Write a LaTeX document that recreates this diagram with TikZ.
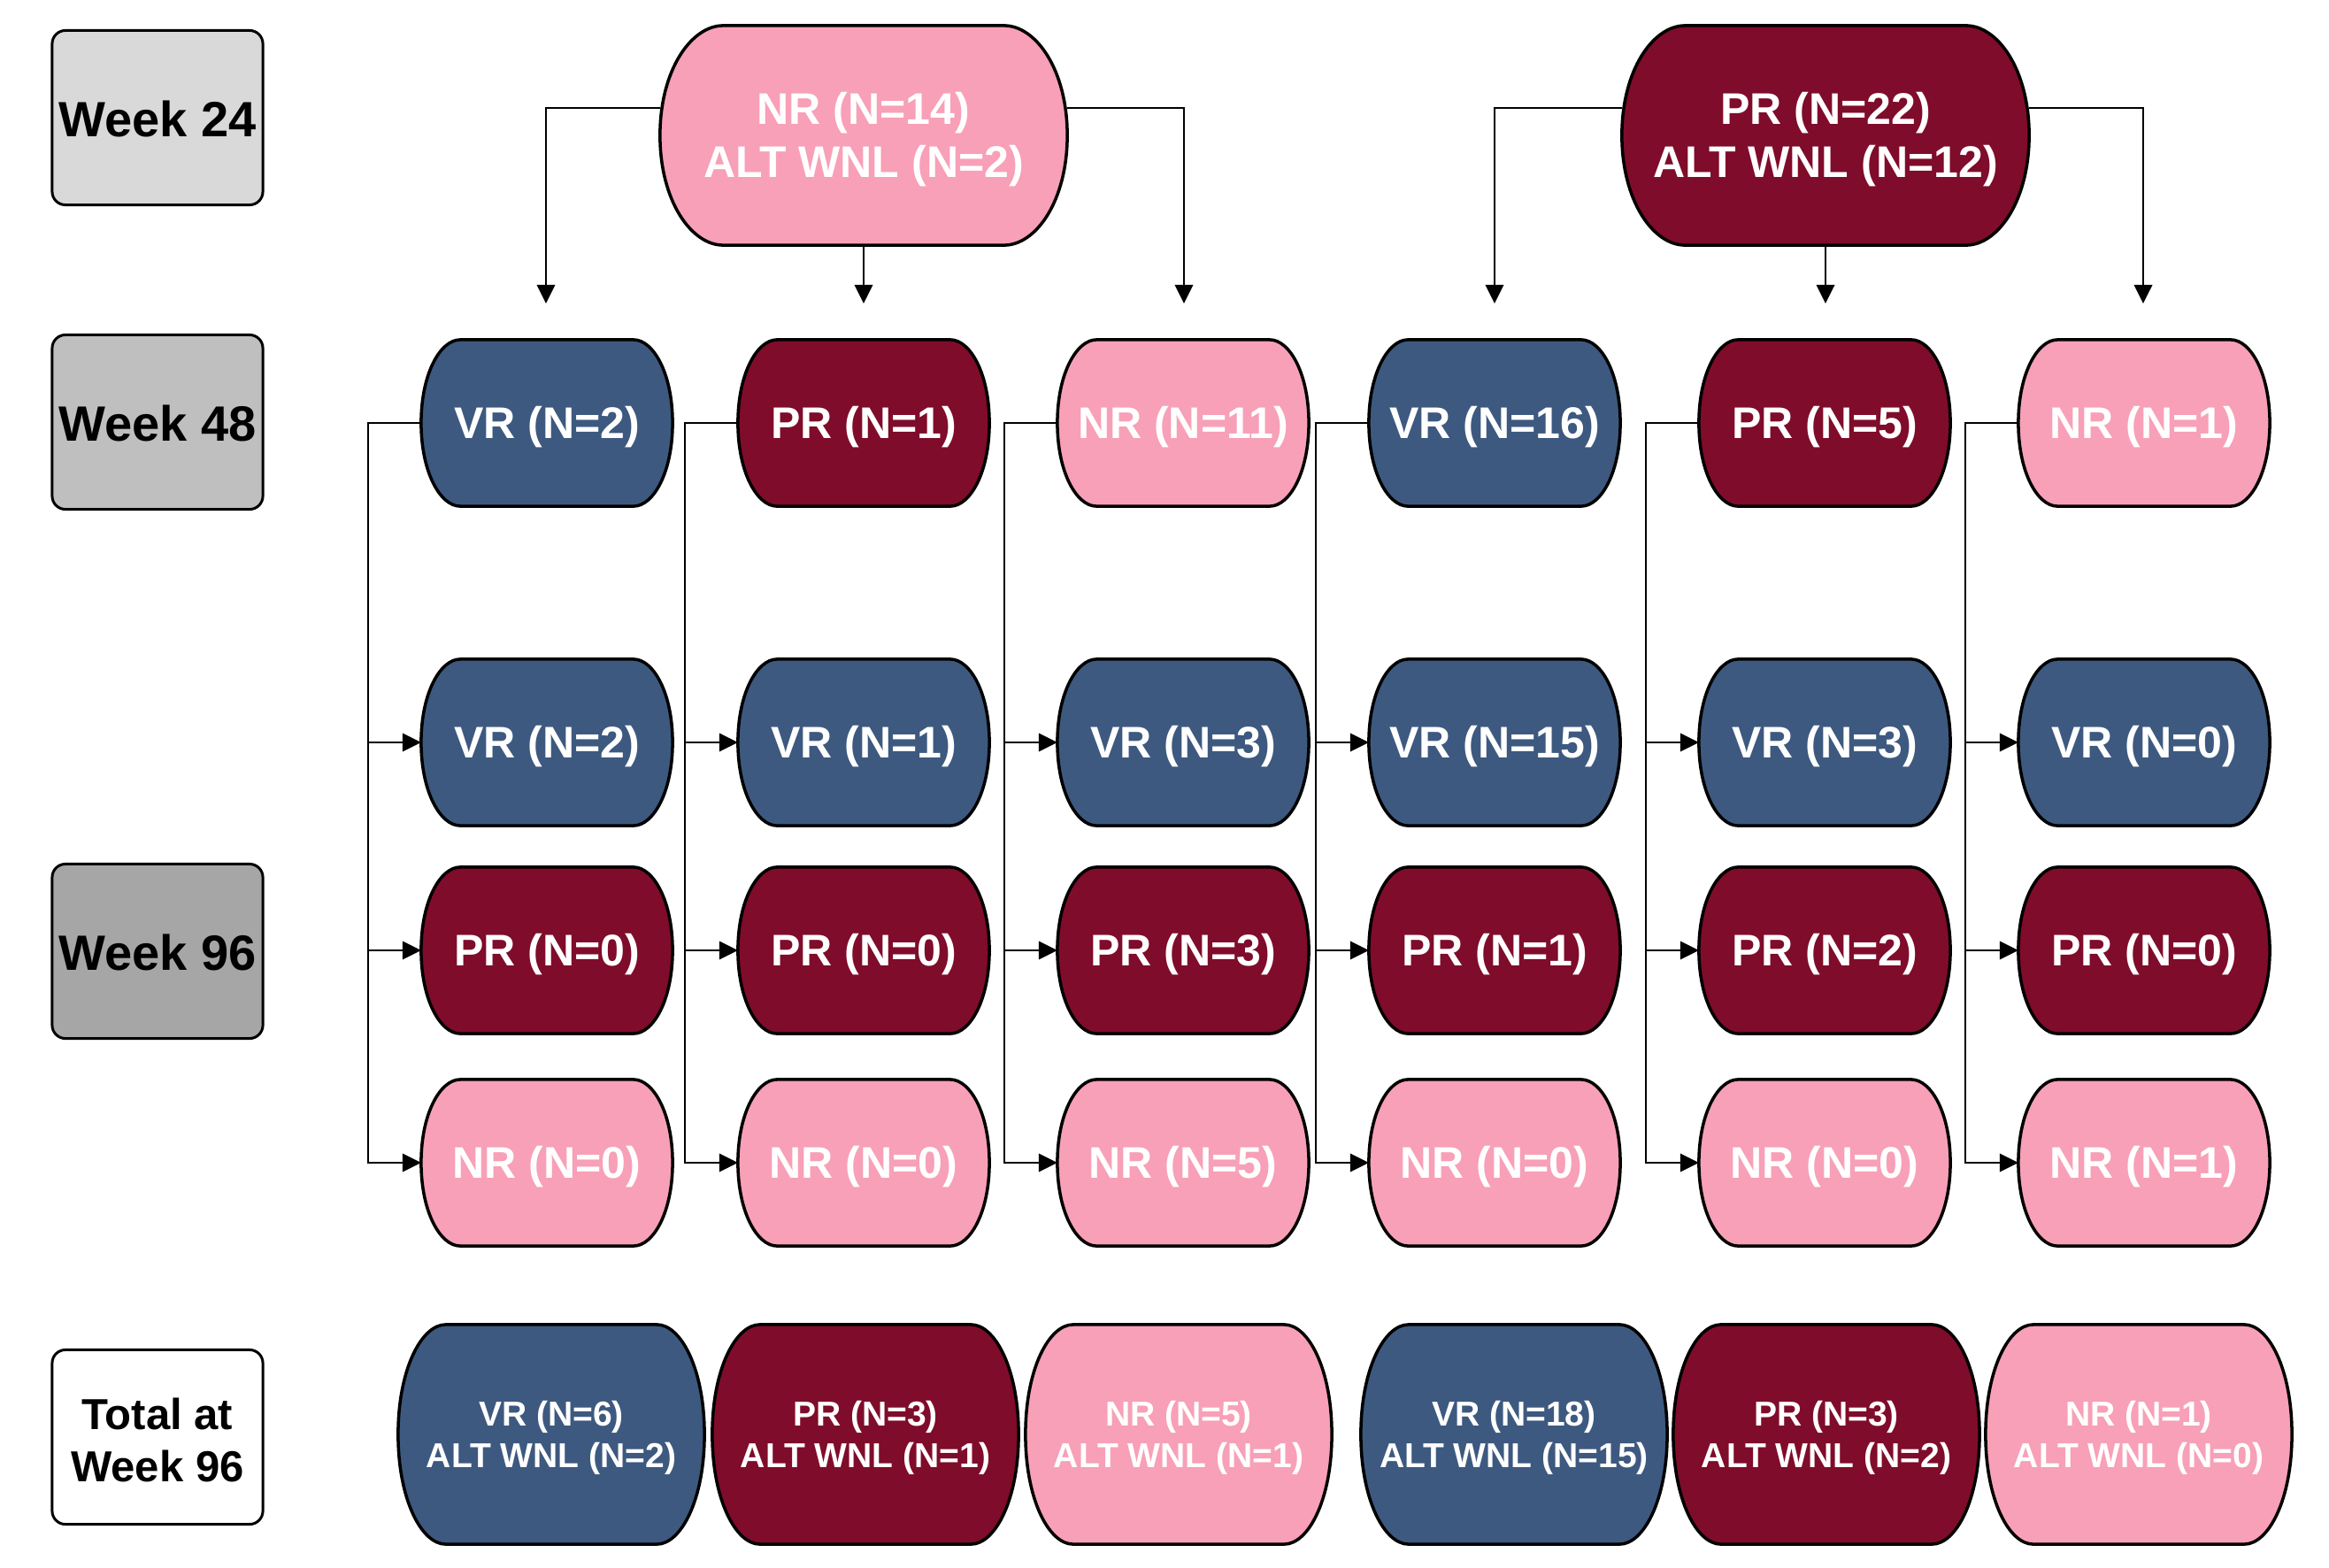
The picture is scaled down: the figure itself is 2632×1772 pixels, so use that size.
\documentclass[tikz,border=0pt]{standalone}
\usepackage{fontspec}
\setmainfont{Liberation Sans}
\usetikzlibrary{arrows.meta,calc}
\definecolor{vrblue}{HTML}{3D597F}
\definecolor{prred}{HTML}{7F0C2A}
\definecolor{nrpink}{HTML}{F7A0B7}
\definecolor{wkA}{HTML}{D9D9D9}
\definecolor{wkB}{HTML}{BFBFBF}
\definecolor{wkC}{HTML}{A6A6A6}
\pgfdeclarelayer{background}
\pgfsetlayers{background,main}
\newcommand\txtdown[2][1.42pt]{\raisebox{-#1}[\height][\depth]{#2}}
\begin{document}
\begin{tikzpicture}[x=0.01cm,y=-0.01cm,
  cell/.style={rectangle, inner sep=0pt, outer sep=0pt, minimum width=2.84cm, minimum height=1.88cm,
    text=white, align=center, font=\bfseries\fontsize{14.23}{17.07}\selectfont},
  topcell/.style={cell, minimum width=4.6cm, minimum height=2.48cm},
  totcell/.style={cell, minimum width=3.46cm, minimum height=2.48cm, font=\bfseries\fontsize{11.1}{13.3}\selectfont},
  weekbox/.style={draw=black, line width=0.85pt, rounded corners=0.15cm, rectangle, inner sep=0pt,
    minimum width=2.38cm, minimum height=1.97cm, align=center, font=\bfseries\fontsize{15.93}{19.1}\selectfont},
  arr/.style={line width=0.7pt, -{Triangle[length=6pt,width=5.8pt]}},
  drumline/.style={draw=black, line width=1pt}
]
\useasboundingbox (0,0) rectangle (2632,1772);

% week labels
\node[weekbox, fill=wkA] (wk24) at (178,133) {\txtdown[0.5pt]{Week 24}};
\node[weekbox, fill=wkB] (wk48) at (178,477) {\txtdown[0.5pt]{Week 48}};
\node[weekbox, fill=wkC] (wk96) at (178,1075) {\txtdown[0.5pt]{Week 96}};
\node[weekbox, fill=white, font=\bfseries\fontsize{13.94}{16.7}\selectfont] (wktot) at (178,1624) {\txtdown[0.9pt]{Total at}\\\txtdown[0.9pt]{Week 96}};

% week 24
\node[topcell] (tnr) at (976,153) {\txtdown{NR (N=14)}\\\txtdown{ALT WNL (N=2)}};
\node[topcell] (tpr) at (2063,153) {\txtdown{PR (N=22)}\\\txtdown{ALT WNL (N=12)}};

% week 48
\node[cell] (m1) at (618,478) {\txtdown{VR (N=2)}};
\node[cell] (m2) at (976,478) {\txtdown{PR (N=1)}};
\node[cell] (m3) at (1337,478) {\txtdown{NR (N=11)}};
\node[cell] (m4) at (1689,478) {\txtdown{VR (N=16)}};
\node[cell] (m5) at (2062,478) {\txtdown{PR (N=5)}};
\node[cell] (m6) at (2423,478) {\txtdown{NR (N=1)}};

% week 96
\node[cell] (v1) at (618,839) {\txtdown{VR (N=2)}};
\node[cell] (v2) at (976,839) {\txtdown{VR (N=1)}};
\node[cell] (v3) at (1337,839) {\txtdown{VR (N=3)}};
\node[cell] (v4) at (1689,839) {\txtdown{VR (N=15)}};
\node[cell] (v5) at (2062,839) {\txtdown{VR (N=3)}};
\node[cell] (v6) at (2423,839) {\txtdown{VR (N=0)}};

\node[cell] (p1) at (618,1074) {\txtdown{PR (N=0)}};
\node[cell] (p2) at (976,1074) {\txtdown{PR (N=0)}};
\node[cell] (p3) at (1337,1074) {\txtdown{PR (N=3)}};
\node[cell] (p4) at (1689,1074) {\txtdown{PR (N=1)}};
\node[cell] (p5) at (2062,1074) {\txtdown{PR (N=2)}};
\node[cell] (p6) at (2423,1074) {\txtdown{PR (N=0)}};

\node[cell] (n1) at (618,1314) {\txtdown{NR (N=0)}};
\node[cell] (n2) at (976,1314) {\txtdown{NR (N=0)}};
\node[cell] (n3) at (1337,1314) {\txtdown{NR (N=5)}};
\node[cell] (n4) at (1689,1314) {\txtdown{NR (N=0)}};
\node[cell] (n5) at (2062,1314) {\txtdown{NR (N=0)}};
\node[cell] (n6) at (2423,1314) {\txtdown{NR (N=1)}};

% totals
\node[totcell] (s1) at (623,1621) {\txtdown[1.2pt]{VR (N=6)}\\\txtdown[1.2pt]{ALT WNL (N=2)}};
\node[totcell] (s2) at (978,1621) {\txtdown[1.2pt]{PR (N=3)}\\\txtdown[1.2pt]{ALT WNL (N=1)}};
\node[totcell] (s3) at (1332,1621) {\txtdown[1.2pt]{NR (N=5)}\\\txtdown[1.2pt]{ALT WNL (N=1)}};
\node[totcell] (s4) at (1711,1621) {\txtdown[1.2pt]{VR (N=18)}\\\txtdown[1.2pt]{ALT WNL (N=15)}};
\node[totcell] (s5) at (2064,1621) {\txtdown[1.2pt]{PR (N=3)}\\\txtdown[1.2pt]{ALT WNL (N=2)}};
\node[totcell] (s6) at (2417,1621) {\txtdown[1.2pt]{NR (N=1)}\\\txtdown[1.2pt]{ALT WNL (N=0)}};

% drum outlines behind the texts
\begin{pgfonlayer}{background}
\foreach \n/\c in {tnr/nrpink, tpr/prred,
  m1/vrblue, m2/prred, m3/nrpink, m4/vrblue, m5/prred, m6/nrpink,
  v1/vrblue, v2/vrblue, v3/vrblue, v4/vrblue, v5/vrblue, v6/vrblue,
  p1/prred, p2/prred, p3/prred, p4/prred, p5/prred, p6/prred,
  n1/nrpink, n2/nrpink, n3/nrpink, n4/nrpink, n5/nrpink, n6/nrpink,
  s1/vrblue, s2/prred, s3/nrpink, s4/vrblue, s5/prred, s6/nrpink}{
  \path[drumline, fill=\c]
    ($(\n.north west)!0.155!(\n.north east)$) -- ($(\n.north east)!0.155!(\n.north west)$)
    .. controls ($(\n.north east)!0.0775!(\n.north west)$) and ($(\n.north east)!0.2!(\n.south east)$) .. (\n.east)
    .. controls ($(\n.south east)!0.2!(\n.north east)$) and ($(\n.south east)!0.0775!(\n.south west)$) .. ($(\n.south east)!0.155!(\n.south west)$)
    -- ($(\n.south west)!0.155!(\n.south east)$)
    .. controls ($(\n.south west)!0.0775!(\n.south east)$) and ($(\n.south west)!0.2!(\n.north west)$) .. (\n.west)
    .. controls ($(\n.north west)!0.2!(\n.south west)$) and ($(\n.north west)!0.0775!(\n.north east)$) .. cycle;
}
\end{pgfonlayer}

% week 24 -> week 48 arrows (free ends)
\coordinate (a1) at (617,343);
\coordinate (a2) at (976,343);
\coordinate (a3) at (1338,343);
\coordinate (a4) at (1689,343);
\coordinate (a5) at (2063,343);
\coordinate (a6) at (2422,343);
\draw[arr] ([yshift=0.31cm]tnr.west) -| (a1);
\draw[arr] (tnr.south) -- (a2);
\draw[arr] ([yshift=0.31cm]tnr.east) -| (a3);
\draw[arr] ([yshift=0.31cm]tpr.west) -| (a4);
\draw[arr] (tpr.south) -- (a5);
\draw[arr] ([yshift=0.31cm]tpr.east) -| (a6);

% week 48 -> week 96
\foreach \c in {1,...,6}{
  \draw[arr] (m\c.west) -- ++(-60,0) |- (v\c.west);
  \draw[arr] (m\c.west) -- ++(-60,0) |- (p\c.west);
  \draw[arr] (m\c.west) -- ++(-60,0) |- (n\c.west);
}
\end{tikzpicture}
\end{document}
